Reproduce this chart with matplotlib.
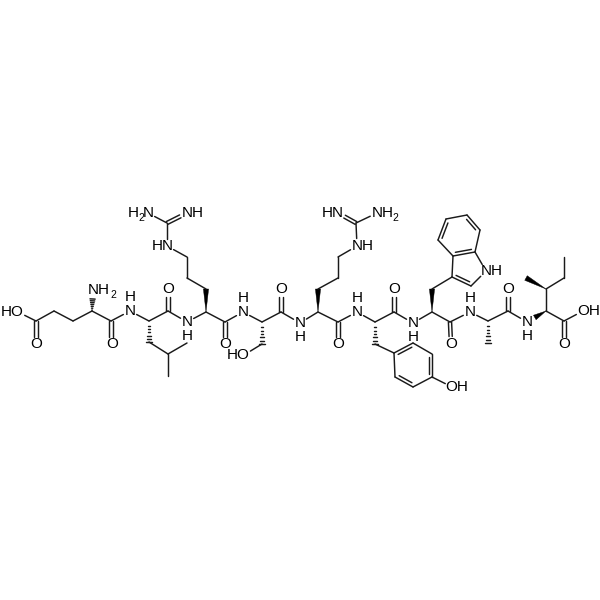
import numpy as np
import matplotlib
matplotlib.use("Agg")
import matplotlib.pyplot as plt

plt.rcParams["font.family"] = ["Liberation Sans", "DejaVu Sans"]

# atoms, pixel positions
atom_names = [
    "e_oh", "e_c", "e_o", "e_cg", "e_cb", "e_ca", "e_n", "e_co", "e_coo",
    "l_n", "l_ca", "l_co", "l_coo", "l_cb", "l_cg", "l_m1", "l_m2",
    "r_n", "r_ca", "r_cb", "r_cg", "r_cd", "r_ne", "r_cz", "r_nh2", "r_nh",
    "r_co", "r_coo",
    "s_n", "s_ca", "s_cb", "s_og", "s_co", "s_coo",
    "q_n", "q_ca", "q_cb", "q_cg", "q_cd", "q_ne", "q_cz", "q_nh", "q_nh2",
    "q_co", "q_coo",
    "y_n", "y_ca", "y_cb", "y_co", "y_coo",
    "y1", "y2", "y3", "y4", "y5", "y6", "y_oh",
    "w_n", "w_ca", "w_cb", "w_co", "w_coo",
    "w3", "w3a", "w4", "w5", "w6", "w7", "w7a", "w2", "w_ne",
    "a_n", "a_ca", "a_cb", "a_co", "a_coo",
    "i_n", "i_ca", "i_c", "i_o", "i_oh", "i_cb", "i_m", "i_cg", "i_cd",
]
atom_x = [
    18, 36, 36, 54, 73, 92, 93, 111, 111,
    130, 149, 168, 168, 149, 168, 187, 168,
    187, 206, 206, 187, 187, 167, 167, 148, 187,
    225, 225,
    243, 262, 262, 244, 281, 281,
    300, 318, 318, 338, 338, 357, 356, 338, 377,
    338, 338,
    357, 375, 375, 394, 394,
    394, 413, 432, 432, 413, 395, 452,
    413, 432, 432, 450, 451,
    452, 453, 438, 446, 467, 480, 475, 471, 486,
    470, 488, 488, 508, 508,
    527, 546, 564, 564, 583, 546, 526, 564, 564,
]
atom_y = [
    312, 321, 344, 311, 321, 311, 290, 321, 344,
    311, 321, 311, 289, 342, 354, 343, 376,
    322, 312, 289, 278, 257, 246, 223, 213, 213,
    322, 344,
    312, 322, 344, 355, 312, 289,
    323, 312, 289, 278, 257, 246, 223, 213, 213,
    322, 344,
    312, 322, 344, 312, 289,
    353, 343, 354, 377, 387, 377, 387,
    323, 312, 289, 322, 344,
    277, 256, 240, 219, 215, 230, 252, 286, 271,
    312, 321, 343, 311, 289,
    322, 311, 321, 344, 311, 289, 278, 278, 257,
]

single_bonds = [
    ("e_oh", "e_c"), ("e_c", "e_cg"), ("e_cg", "e_cb"), ("e_cb", "e_ca"),
    ("e_ca", "e_co"), ("e_co", "l_n"), ("l_n", "l_ca"), ("l_ca", "l_co"),
    ("l_co", "r_n"), ("l_cb", "l_cg"), ("l_cg", "l_m1"), ("l_cg", "l_m2"),
    ("r_n", "r_ca"), ("r_cb", "r_cg"), ("r_cg", "r_cd"), ("r_cd", "r_ne"),
    ("r_ne", "r_cz"), ("r_cz", "r_nh2"), ("r_ca", "r_co"), ("r_co", "s_n"),
    ("s_n", "s_ca"), ("s_cb", "s_og"), ("s_ca", "s_co"), ("s_co", "q_n"),
    ("q_n", "q_ca"), ("q_cb", "q_cg"), ("q_cg", "q_cd"), ("q_cd", "q_ne"),
    ("q_ne", "q_cz"), ("q_cz", "q_nh2"), ("q_ca", "q_co"), ("q_co", "y_n"),
    ("y_n", "y_ca"), ("y_ca", "y_co"), ("y_cb", "y1"), ("y_co", "w_n"),
    ("y2", "y3"), ("y4", "y5"), ("y6", "y1"), ("y4", "y_oh"),
    ("w_n", "w_ca"), ("w_ca", "w_co"), ("w_cb", "w3"), ("w_co", "a_n"),
    ("w3", "w3a"), ("w3a", "w4"), ("w5", "w6"), ("w7", "w7a"),
    ("w7a", "w_ne"), ("w_ne", "w2"),
    ("a_n", "a_ca"), ("a_ca", "a_co"), ("a_co", "i_n"),
    ("i_ca", "i_c"), ("i_c", "i_oh"), ("i_ca", "i_cb"), ("i_cb", "i_cg"),
    ("i_cg", "i_cd"),
]
double_bonds = [
    ("e_c", "e_o"), ("e_co", "e_coo"), ("l_co", "l_coo"), ("r_cz", "r_nh"),
    ("r_co", "r_coo"), ("s_co", "s_coo"), ("q_cz", "q_nh"), ("q_co", "q_coo"),
    ("y_co", "y_coo"), ("w_co", "w_coo"), ("a_co", "a_coo"), ("i_c", "i_o"),
]
# ring double bonds: inner line goes toward the ring middle
tyr_ring = ["y1", "y2", "y3", "y4", "y5", "y6"]
benz_ring = ["w3a", "w4", "w5", "w6", "w7", "w7a"]
pyrrole_ring = ["w3", "w3a", "w7a", "w_ne", "w2"]
tyr_doubles = [("y1", "y2"), ("y3", "y4"), ("y5", "y6")]
benz_doubles = [("w4", "w5"), ("w6", "w7"), ("w7a", "w3a")]
pyrrole_doubles = [("w3", "w2")]

wedge_bonds = [("r_ca", "r_cb"), ("q_ca", "q_cb"), ("w_ca", "w_cb"),
               ("i_cb", "i_m"), ("i_ca", "i_n")]
hash_bonds = [("e_ca", "e_n"), ("l_ca", "l_cb"), ("s_ca", "s_cb"),
              ("y_ca", "y_cb"), ("a_ca", "a_cb")]

o_x = [36, 112, 168, 225, 281, 338, 394, 451, 508, 564]
o_y = [344, 344, 289, 344, 289, 344, 289, 344, 289, 344]
n_x = [130, 187, 243, 300, 357, 413, 470, 527]
n_y = [311, 322, 312, 323, 312, 323, 312, 322]
h_x = [130, 187, 243, 300, 357, 413, 470, 527]
h_y = [297, 336, 298, 337, 298, 337, 298, 336]
group_text = ["HO", "NH", "H", "N", "NH", "HN", "HN", "NH", "NH", "HO", "OH", "NH", "OH"]
group_x = [12, 99, 133, 148, 192.5, 162.5, 332.5, 382.5, 362.5, 238.5, 457, 491.5, 588.5]
group_y = [312, 290, 213, 213, 213, 246, 213, 213, 246, 355, 387, 271, 311]
sub_x = [113, 141, 395]
sub_y = [295, 218, 218]

# atoms that carry a letter, bonds stop short of them
hetero = {"e_oh", "e_o", "e_n", "e_coo", "l_n", "l_coo", "r_n", "r_ne", "r_nh2",
          "r_nh", "r_coo", "s_n", "s_og", "s_coo", "q_n", "q_ne", "q_nh", "q_nh2",
          "q_coo", "y_n", "y_coo", "y_oh", "w_n", "w_coo", "w_ne", "a_n", "a_coo",
          "i_n", "i_o", "i_oh"}

pos = {n: np.array([x, y], dtype=float) for n, x, y in zip(atom_names, atom_x, atom_y)}
ink = "#1a1a1a"
lw = 1.05

fig = plt.figure(figsize=(6, 6), dpi=100)
ax = fig.add_axes([0, 0, 1, 1])
ax.set_xlim(0, 600)
ax.set_ylim(600, 0)
ax.axis("off")


def ends(a, b, gap=7.5):
    p, q = pos[a].copy(), pos[b].copy()
    u = (q - p) / np.linalg.norm(q - p)
    if a in hetero:
        p = p + u * gap
    if b in hetero:
        q = q - u * gap
    return p, q


def line(p, q):
    ax.plot([p[0], q[0]], [p[1], q[1]], color=ink, lw=lw, solid_capstyle="round")


for a, b in single_bonds:
    line(*ends(a, b))

for a, b in double_bonds:
    p, q = ends(a, b)
    u = (q - p) / np.linalg.norm(q - p)
    n = np.array([-u[1], u[0]]) * 1.6
    line(p + n, q + n)
    line(p - n, q - n)

for ring, pairs in [(tyr_ring, tyr_doubles), (benz_ring, benz_doubles),
                    (pyrrole_ring, pyrrole_doubles)]:
    mid = np.mean([pos[r] for r in ring], axis=0)
    for a, b in pairs:
        p, q = pos[a], pos[b]
        line(p, q)
        u = (q - p) / np.linalg.norm(q - p)
        n = np.array([-u[1], u[0]])
        if np.dot(mid - p, n) < 0:
            n = -n
        line(p + n * 3.2 + u * 3, q + n * 3.2 - u * 3)

for a, b in wedge_bonds:
    p, q = ends(a, b, gap=9)
    u = (q - p) / np.linalg.norm(q - p)
    n = np.array([-u[1], u[0]]) * 2.6
    ax.fill([p[0], q[0] + n[0], q[0] - n[0]], [p[1], q[1] + n[1], q[1] - n[1]],
            color="black", lw=0.3)

for a, b in hash_bonds:
    p, q = ends(a, b, gap=9)
    u = (q - p) / np.linalg.norm(q - p)
    n = np.array([-u[1], u[0]])
    for t in np.linspace(0.08, 1, 7):
        c = p + (q - p) * t
        line(c - n * 2.6 * t, c + n * 2.6 * t)

for s, xs, ys in [("O", o_x, o_y), ("N", n_x, n_y), ("H", h_x, h_y)]:
    for x, y in zip(xs, ys):
        ax.text(x, y, s, fontsize=11, color="black", ha="center", va="center")
for s, x, y in zip(group_text, group_x, group_y):
    ax.text(x, y, s, fontsize=11, color="black", ha="center", va="center")
for x, y in zip(sub_x, sub_y):
    ax.text(x, y, "2", fontsize=7.5, color="black", ha="center", va="center")

fig.savefig("out.png", dpi=100, facecolor="white")
